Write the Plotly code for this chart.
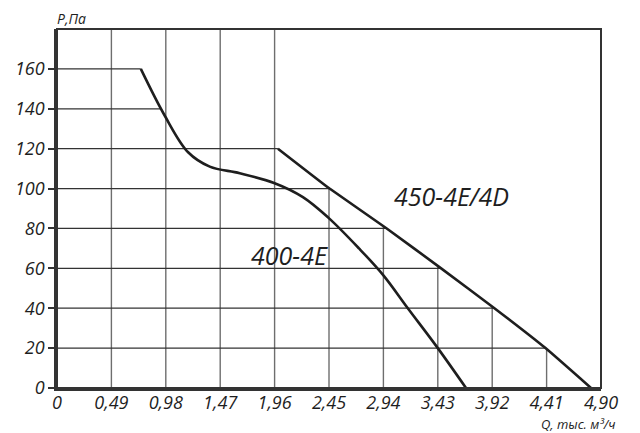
import numpy as np
import plotly.graph_objects as go

# Data
q_400 = [0.755, 0.971, 1.181, 1.376, 1.646, 1.955, 2.215, 2.446, 2.72, 2.94, 3.16, 3.43, 3.684]
p_400 = [160, 136.5, 118.2, 111, 107.7, 102.8, 95.7, 85.3, 70, 56.5, 40, 20, 0]
q_450 = [1.99, 2.455, 2.97, 3.46, 3.94, 4.40, 4.81]
p_450 = [120, 100, 80, 60, 40, 20, 0]

x_ticks = [0, 0.49, 0.98, 1.47, 1.96, 2.45, 2.94, 3.43, 3.92, 4.41, 4.90]
x_labels = ["0", "0,49", "0,98", "1,47", "1,96", "2,45", "2,94", "3,43", "3,92", "4,41", "4,90"]
y_ticks = [0, 20, 40, 60, 80, 100, 120, 140, 160]
y_labels = ["0", "20", "40", "60", "80", "100", "120", "140", "160"]
x_max, y_max = 4.90, 180

FONT = "Open Sans"
INK = "#1e1e1e"

def q_at(p, qs, ps):
    ps_r, qs_r = ps[::-1], qs[::-1]
    if p < min(ps) or p > max(ps):
        return np.nan
    return float(np.interp(p, ps_r, qs_r))

# Gridlines clipped by the curve envelope
hx, hy = [], []
for p in y_ticks[1:]:
    ends = [q_at(p, q_400, p_400), q_at(p, q_450, p_450)]
    end = np.nanmax(ends)
    hx += [0, end, None]
    hy += [p, p, None]

vx, vy = [], []
for q in x_ticks[1:-1]:
    top = float(np.interp(q, q_450, p_450, left=y_max))
    vx += [q, q, None]
    vy += [0, top, None]

fig = go.Figure()
fig.add_trace(go.Scatter(x=vx, y=vy, mode="lines", line=dict(color="#6e6e6e", width=1.4),
                         hoverinfo="skip", showlegend=False))
fig.add_trace(go.Scatter(x=hx, y=hy, mode="lines", line=dict(color="#333333", width=1.2),
                         hoverinfo="skip", showlegend=False))
fig.add_trace(go.Scatter(x=q_400, y=p_400, mode="lines", line=dict(color=INK, width=2.6, shape="spline", smoothing=1.0),
                         name="400-4E", showlegend=False))
fig.add_trace(go.Scatter(x=q_450, y=p_450, mode="lines", line=dict(color=INK, width=2.6, shape="spline", smoothing=0.3),
                         name="450-4E/4D", showlegend=False))

fig.add_annotation(x=2.09, y=66.5, text="<i>400-4E</i>", showarrow=False,
                   font=dict(family=FONT, size=25, color=INK))
fig.add_annotation(x=3.55, y=96.5, text="<i>450-4E/4D</i>", showarrow=False,
                   font=dict(family=FONT, size=25, color=INK))
fig.add_annotation(xref="paper", yref="paper", x=-0.004, y=1.0, yshift=-1, xanchor="left", yanchor="bottom",
                   text="<i>P,Па</i>", showarrow=False,
                   font=dict(family=FONT, size=14, color=INK))
fig.add_annotation(xref="paper", yref="paper", x=1.031, y=0, yshift=-25, xanchor="right", yanchor="top",
                   text="<i>Q, тыс. м³/ч</i>", showarrow=False,
                   font=dict(family=FONT, size=13, color=INK))

# frame top/right
fig.add_shape(type="rect", xref="paper", yref="paper", x0=0, y0=0, x1=1, y1=1,
              line=dict(color="#333333", width=2), layer="above")

# page body has an 8px margin, so the figure is sized to fit inside the window
fig.update_layout(
    width=632, height=425,
    margin=dict(l=49, r=39, t=21, b=45, autoexpand=False),
    paper_bgcolor="white", plot_bgcolor="white",
    font=dict(family=FONT, color=INK),
    xaxis=dict(range=[0, x_max], tickvals=x_ticks, ticktext=["<i>%s</i>" % t for t in x_labels],
               showgrid=False, zeroline=False,
               showline=True, linecolor="#333333", linewidth=2.5, ticks="", automargin=False,
               ticklabelstandoff=-3,
               tickfont=dict(family=FONT, size=18, color=INK)),
    yaxis=dict(range=[0, y_max], tickvals=y_ticks, ticktext=["<i>%s</i>" % t for t in y_labels],
               showgrid=False, zeroline=False,
               showline=True, linecolor="#333333", linewidth=2.5, ticks="outside", ticklen=6,
               tickcolor="#333333", tickwidth=1.5, automargin=False,
               tickfont=dict(family=FONT, size=18, color=INK)),
)

fig.write_html("out.html")
